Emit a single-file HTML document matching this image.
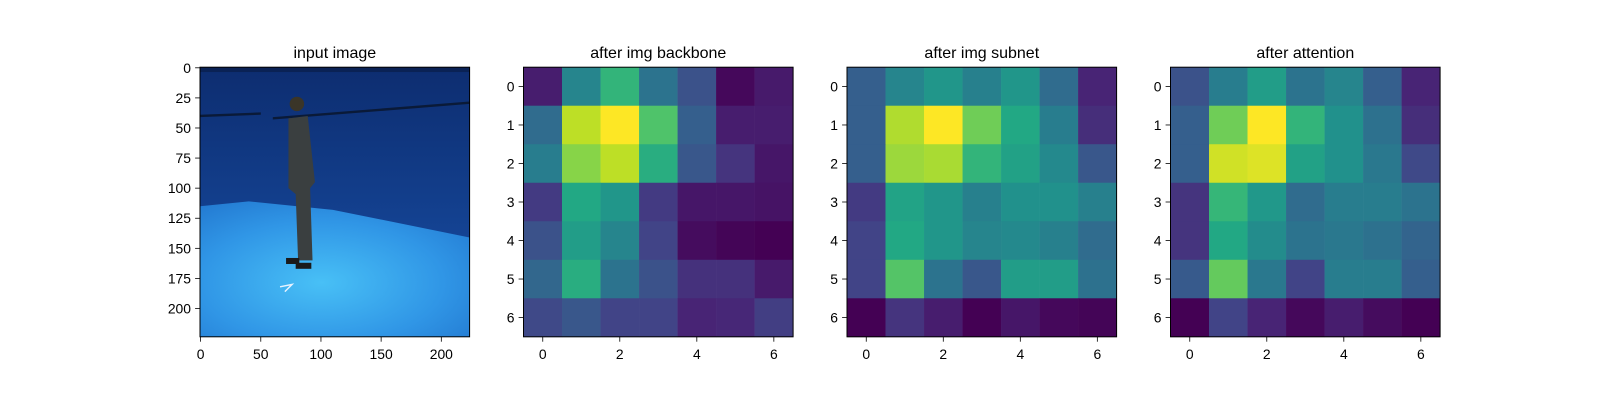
<!DOCTYPE html>
<html><head><meta charset="utf-8"><style>
html,body{margin:0;padding:0;background:#fff;}
svg{display:block;font-family:"Liberation Sans","DejaVu Sans",sans-serif;}
</style></head><body>
<svg id="fig" width="1600" height="400" viewBox="0 0 1600 400" xmlns="http://www.w3.org/2000/svg">
<rect width="1600" height="400" fill="#fff"/>
<g id="imgpanel">
 <svg x="200" y="67.2" width="269.6" height="269.6" viewBox="-0.5 -0.5 224 224" preserveAspectRatio="none">
  <defs>
   <linearGradient id="wall" x1="0" y1="0" x2="0" y2="1"><stop offset="0" stop-color="#0d2d70"/><stop offset="1" stop-color="#1850a8"/></linearGradient>
   <radialGradient id="floor" cx="0.45" cy="0.6" r="0.75"><stop offset="0" stop-color="#48c0f6"/><stop offset="0.6" stop-color="#3096e6"/><stop offset="1" stop-color="#2278d0"/></radialGradient>
  </defs>
  <rect x="-0.5" y="-0.5" width="224" height="224" fill="url(#wall)"/>
  <polygon points="-0.5,115 40,111 110,118 223.5,141 223.5,223.5 -0.5,223.5" fill="url(#floor)"/>
  <rect x="-0.5" y="-0.5" width="224" height="4" fill="#0a2255"/>
  <polygon points="-0.5,39 50,37 50,39 -0.5,41" fill="#0a1a38"/>
  <polygon points="60,41 223.5,28 223.5,30 60,43" fill="#0a1a38"/>
  <circle cx="80" cy="30" r="6" fill="#3a3528"/>
  <polygon points="73,42 89,40 95,95 91,100 93,160 81,160 79,105 73,100" fill="#3a3f40"/>
  <rect x="71" y="158" width="11" height="5" fill="#1a1a1a"/>
  <rect x="79" y="162" width="13" height="5" fill="#1a1a1a"/>
  <polyline points="66,182 76,180 70,186" fill="none" stroke="#e6f2ff" stroke-width="1.2"/>
 </svg>
 <rect x="200" y="67.2" width="269.6" height="269.6" fill="none" stroke="#000" stroke-width="1"/>
</g>
<g id="heatmaps"></g>
<text x="334.8" y="58" font-size="16" text-anchor="middle">input image</text>
</svg>
<script>
const titles = ["after img backbone","after img subnet","after attention"];
const backboneValues = [
 [0.08,0.45,0.65,0.38,0.25,0.02,0.07],
 [0.35,0.90,1.00,0.72,0.30,0.08,0.08],
 [0.42,0.82,0.90,0.62,0.27,0.15,0.06],
 [0.17,0.60,0.52,0.17,0.06,0.06,0.05],
 [0.25,0.55,0.45,0.20,0.03,0.01,0.00],
 [0.33,0.62,0.38,0.25,0.14,0.14,0.07],
 [0.22,0.27,0.20,0.20,0.10,0.11,0.18]];
const subnetValues = [
 [0.30,0.45,0.52,0.43,0.52,0.35,0.10],
 [0.30,0.88,1.00,0.78,0.60,0.42,0.13],
 [0.30,0.85,0.87,0.65,0.57,0.47,0.27],
 [0.17,0.58,0.52,0.43,0.50,0.50,0.43],
 [0.20,0.60,0.52,0.45,0.47,0.43,0.35],
 [0.20,0.73,0.38,0.27,0.55,0.55,0.37],
 [0.00,0.15,0.08,0.00,0.06,0.02,0.01]];
const attentionValues = [
 [0.25,0.42,0.55,0.38,0.45,0.30,0.10],
 [0.30,0.78,1.00,0.65,0.50,0.37,0.13],
 [0.30,0.93,0.95,0.57,0.50,0.40,0.22],
 [0.15,0.66,0.53,0.35,0.42,0.42,0.38],
 [0.15,0.60,0.48,0.38,0.40,0.37,0.32],
 [0.28,0.76,0.40,0.20,0.42,0.42,0.30],
 [0.00,0.20,0.10,0.02,0.08,0.03,0.00]];
const heatXTicks = [0,2,4,6];
const heatYTicks = [0,1,2,3,4,5,6];
const imgXTicks = [0,50,100,150,200];
const imgYTicks = [0,25,50,75,100,125,150,175,200];

const NS="http://www.w3.org/2000/svg";
const fig=document.getElementById('fig');
const V=[[68,1,84],[72,36,117],[65,68,135],[53,95,141],[42,120,142],[33,145,140],[34,168,132],[68,191,112],[122,209,81],[189,223,38],[253,231,37]];
function viridis(t){t=Math.max(0,Math.min(1,t))*10;const i=Math.min(9,Math.floor(t)),f=t-i;
 const c=V[i].map((v,k)=>Math.round(v+(V[i+1][k]-v)*f));return `rgb(${c})`;}
function mk(tag,attrs,parent){const e=document.createElementNS(NS,tag);for(const k in attrs)e.setAttribute(k,attrs[k]);(parent||fig).appendChild(e);return e;}
const AX=[523.5,847,1170.5], AY=67.2, AW=269.6;
const sets=[backboneValues,subnetValues,attentionValues];
function sx(i,v){return AX[i]+(v+0.5)/7*AW;}
function sy(v){return AY+(v+0.5)/7*AW;}
sets.forEach((data,p)=>{
 const g=mk('g',{});
 
 
 data.forEach((row,r)=>row.forEach((v,c)=>{
  const cell=mk('rect',{x:sx(p,c-0.5),y:sy(r-0.5),width:AW/7+0.3,height:AW/7+0.3,fill:viridis(v)},g);
  
  
 }));
 mk('rect',{x:AX[p],y:AY,width:AW,height:AW,fill:'none',stroke:'#000','stroke-width':1},g);
 heatXTicks.forEach(t=>{const x=sx(p,t);
  mk('line',{x1:x,x2:x,y1:AY+AW,y2:AY+AW+4.9,stroke:'#000','stroke-width':0.8},g);
  const tx=mk('text',{x:x,y:AY+AW+22,'font-size':13.9,'text-anchor':'middle'},g);tx.textContent=t;
  
  });
 heatYTicks.forEach(t=>{const y=sy(t);
  mk('line',{x1:AX[p]-4.9,x2:AX[p],y1:y,y2:y,stroke:'#000','stroke-width':0.8},g);
  const tx=mk('text',{x:AX[p]-9,y:y+5,'font-size':13.9,'text-anchor':'end'},g);tx.textContent=t;
  
  });
 const ti=mk('text',{x:AX[p]+AW/2,y:58,'font-size':16,'text-anchor':'middle'},g);ti.textContent=titles[p];
 
 
});
const IX=200,IS=AW/224;
imgXTicks.forEach(t=>{const x=IX+(t+0.5)*IS;
 mk('line',{x1:x,x2:x,y1:AY+AW,y2:AY+AW+4.9,stroke:'#000','stroke-width':0.8});
 const tx=mk('text',{x:x,y:AY+AW+22,'font-size':13.9,'text-anchor':'middle'});tx.textContent=t;
 
 });
imgYTicks.forEach(t=>{const y=AY+(t+0.5)*IS;
 mk('line',{x1:IX-4.9,x2:IX,y1:y,y2:y,stroke:'#000','stroke-width':0.8});
 const tx=mk('text',{x:IX-9,y:y+5,'font-size':13.9,'text-anchor':'end'});tx.textContent=t;
 
 });
</script>
</body></html>
